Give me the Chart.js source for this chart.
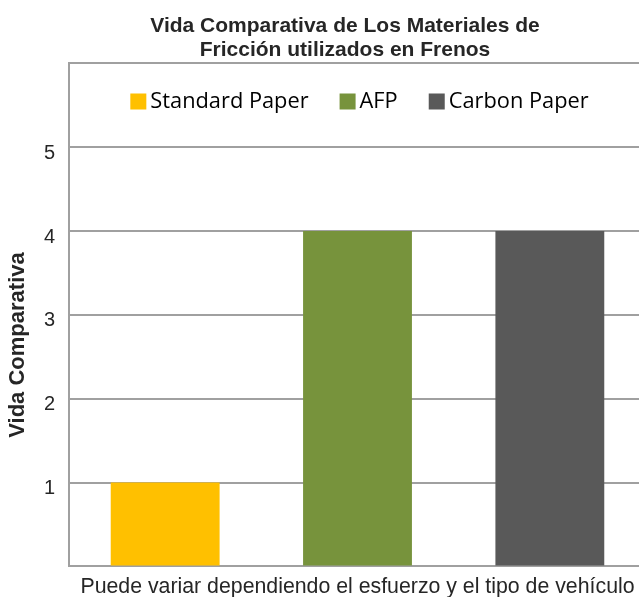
<!DOCTYPE html>
<html>
<head>
<meta charset="utf-8">
<script src="https://cdn.jsdelivr.net/npm/chart.js@4.4.1/dist/chart.umd.min.js"></script>
<style>
  html, body { margin: 0; padding: 0; background: #fff; overflow: hidden; }
  #wrap { width: 690px; height: 600px; }
</style>
</head>
<body>
<div id="wrap"><canvas id="frenosChart" width="690" height="600"></canvas></div>
<script>
const categories = ["Standard Paper", "AFP", "Carbon Paper"];
const vidaValues = [1, 4, 4];
const barColors = ["#FFC000", "#77933C", "#595959"];
const yTickLabels = [1, 2, 3, 4, 5];

const titleLines = ["Vida Comparativa de Los Materiales de", "Fricción utilizados en Frenos"];
const yTitle = "Vida Comparativa";
const xTitle = "Puede variar dependiendo el esfuerzo y el tipo de vehículo";

const gridGray = "#a0a0a0";
const textDark = "#262626";

// legend sits inside the plot area, so it is drawn by hand
const insideLegend = {
  id: "insideLegend",
  afterDatasetsDraw(chart) {
    const ctx = chart.ctx;
    const area = chart.chartArea;
    const box = 16, gapText = 4, gapItem = 31;
    ctx.save();
    ctx.font = '21.8px "Open Sans"';
    ctx.textBaseline = "middle";
    const widths = categories.map((c) => ctx.measureText(c).width);
    let total = 0;
    widths.forEach((w, i) => {
      total += box + gapText + w + (i < widths.length - 1 ? gapItem : 0);
    });
    let x = (area.left + area.right) / 2 - total / 2 + 2;
    const yMid = 101.5;
    categories.forEach((c, i) => {
      ctx.fillStyle = barColors[i];
      ctx.fillRect(x, yMid - box / 2, box, box);
      ctx.fillStyle = "#000";
      ctx.fillText(c, x + box + gapText, yMid);
      x += box + gapText + widths[i] + gapItem;
    });
    ctx.restore();
  },
};

// y title is centred a bit below the plot centre in the original
const sideTitle = {
  id: "sideTitle",
  afterDraw(chart) {
    const ctx = chart.ctx;
    ctx.save();
    ctx.translate(18, 345);
    ctx.rotate(-Math.PI / 2);
    ctx.font = 'bold 22px "Liberation Sans"';
    ctx.fillStyle = textDark;
    ctx.textAlign = "center";
    ctx.textBaseline = "middle";
    ctx.fillText(yTitle, 0, 0);
    ctx.restore();
  },
};

const ctx = document.getElementById("frenosChart").getContext("2d");
const frenosChart = new Chart(ctx, {
  type: "bar",
  data: {
    labels: categories,
    datasets: [
      {
        label: yTitle,
        data: vidaValues,
        backgroundColor: barColors,
        borderWidth: 0,
        barPercentage: 1,
        categoryPercentage: 0.566,
      },
    ],
  },
  options: {
    responsive: false,
    animation: false,
    devicePixelRatio: 1,
    layout: {
      padding: 0,
    },
    scales: {
      y: {
        min: 0,
        max: 6,
        afterFit(scale) {
          scale.width = 69;
        },
        grid: {
          color: gridGray,
          lineWidth: 2,
          drawTicks: false,
        },
        border: {
          color: gridGray,
          width: 2,
        },
        ticks: {
          stepSize: 1,
          padding: 14,
          labelOffset: 6,
          color: textDark,
          font: { family: "Liberation Sans", size: 20 },
          callback: (v) => (yTickLabels.includes(v) ? v : ""),
        },
      },
      // empty right axis, only keeps the plot from running to the canvas edge
      yRight: {
        position: "right",
        min: 0,
        max: 6,
        afterFit(scale) {
          scale.width = 44;
        },
        grid: { display: false, drawTicks: false },
        border: { display: false },
        ticks: { display: false },
      },
      x: {
        grid: { display: false, drawTicks: false },
        border: {
          color: gridGray,
          width: 2,
        },
        ticks: { display: false },
        title: {
          display: true,
          text: xTitle,
          color: textDark,
          font: { family: "Liberation Sans", size: 21.3 },
          padding: { top: 8, bottom: 0 },
        },
      },
    },
    plugins: {
      legend: { display: false },
      tooltip: { enabled: false },
      title: {
        display: true,
        text: titleLines,
        color: textDark,
        font: { family: "Liberation Sans", size: 21, weight: "bold", lineHeight: 1.15 },
        padding: { top: 14, bottom: 1 },
      },
    },
  },
  plugins: [insideLegend, sideTitle],
});
</script>
</body>
</html>
